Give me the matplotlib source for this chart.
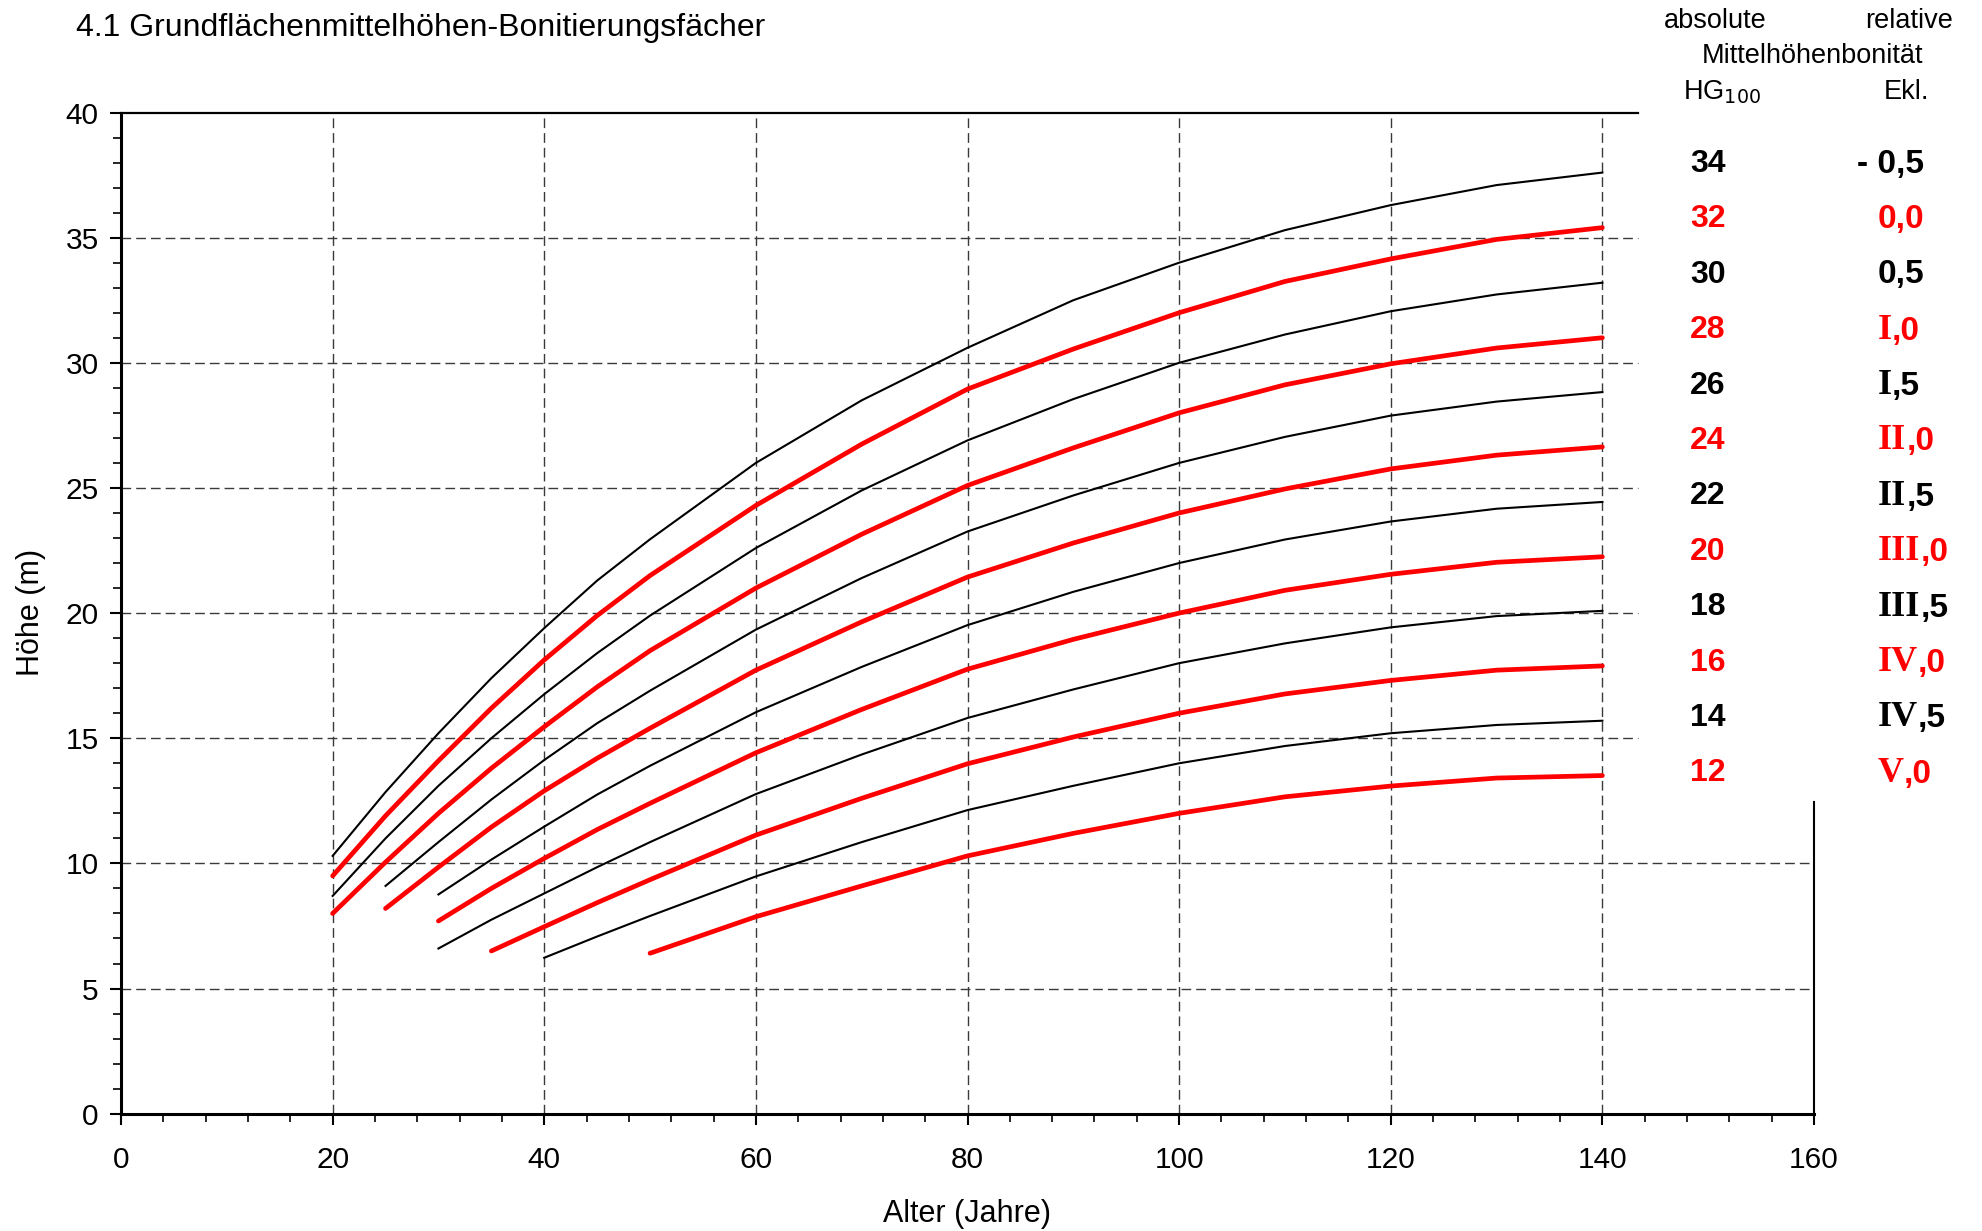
import numpy as np
import matplotlib.pyplot as plt
from matplotlib.ticker import MultipleLocator

plt.rcParams['font.family'] = ['Liberation Sans', 'DejaVu Sans']

# Alter (Jahre)
ages = [20, 25, 30, 35, 40, 45, 50, 60, 70, 80, 90, 100, 110, 120, 130, 140]
nan = np.nan

# Grundflächenmittelhöhe (m) je absolute Bonität HG100
h34 = [10.3, 12.85, 15.2, 17.4, 19.4, 21.3, 22.95, 26.0, 28.5, 30.6, 32.5, 34.0, 35.3, 36.3, 37.1, 37.6]
h32 = [9.5, 11.9, 14.1, 16.2, 18.13, 19.9, 21.5, 24.3, 26.75, 28.95, 30.55, 32.0, 33.25, 34.15, 34.93, 35.4]
h30 = [8.7, 11.0, 13.1, 15.0, 16.76, 18.4, 19.9, 22.6, 24.9, 26.9, 28.55, 30.0, 31.13, 32.06, 32.73, 33.2]
h28 = [8.0, 10.05, 12.0, 13.8, 15.46, 17.05, 18.5, 21.0, 23.15, 25.1, 26.6, 28.0, 29.12, 29.96, 30.59, 31.0]
h26 = [nan, 9.1, 10.85, 12.55, 14.13, 15.6, 16.9, 19.34, 21.4, 23.26, 24.7, 26.0, 27.04, 27.89, 28.45, 28.83]
h24 = [nan, 8.2, 9.85, 11.45, 12.9, 14.2, 15.4, 17.72, 19.65, 21.44, 22.8, 24.0, 24.96, 25.76, 26.31, 26.64]
h22 = [nan, nan, 8.76, 10.15, 11.47, 12.75, 13.9, 16.04, 17.85, 19.52, 20.85, 22.0, 22.94, 23.66, 24.17, 24.44]
h20 = [nan, nan, 7.7, 9.0, 10.2, 11.35, 12.4, 14.42, 16.15, 17.76, 18.95, 20.0, 20.91, 21.55, 22.03, 22.25]
h18 = [nan, nan, 6.6, 7.75, 8.8, 9.85, 10.85, 12.77, 14.35, 15.81, 16.95, 18.0, 18.79, 19.43, 19.88, 20.09]
h16 = [nan, nan, nan, 6.5, 7.47, 8.43, 9.35, 11.13, 12.6, 13.98, 15.05, 16.0, 16.77, 17.31, 17.72, 17.89]
h14 = [nan, nan, nan, nan, 6.23, 7.08, 7.9, 9.48, 10.85, 12.13, 13.1, 14.0, 14.69, 15.2, 15.53, 15.7]
h12 = [nan, nan, nan, nan, nan, nan, 6.41, 7.87, 9.1, 10.3, 11.2, 12.0, 12.66, 13.09, 13.41, 13.51]

hg100 = [34, 32, 30, 28, 26, 24, 22, 20, 18, 16, 14, 12]
heights = [h34, h32, h30, h28, h26, h24, h22, h20, h18, h16, h14, h12]
# relative Ekl.: (roemischer Teil, Rest)
ekl = [('', '- 0,5'), ('', '0,0'), ('', '0,5'), ('I', ',0'), ('I', ',5'), ('II', ',0'),
       ('II', ',5'), ('III', ',0'), ('III', ',5'), ('IV', ',0'), ('IV', ',5'), ('V', ',0')]

W, H = 1982, 1231
fig = plt.figure(figsize=(W / 100, H / 100), dpi=100)
ax = fig.add_axes([121 / W, 1 - 1113.7 / H, (1814 - 121) / W, (1113.7 - 112.5) / H])

def px(x, y):
    return x / W, 1 - y / H

# grid lines (upper ones stop before the table)
dash = (0, (7, 3.6))
gcol = '#3a3a3a'
for y in [5, 10]:
    ax.plot([0, 160], [y, y], color=gcol, lw=1.0, ls=dash, zorder=1)
for y in [15, 20, 25, 30, 35]:
    ax.plot([0, 143.4], [y, y], color=gcol, lw=1.0, ls=dash, zorder=1, clip_on=False)
for x in range(20, 141, 20):
    ax.plot([x, x], [0, 40], color=gcol, lw=1.0, ls=dash, zorder=1)

# curves
for i, h in enumerate(heights):
    if i % 2 == 1:
        ax.plot(ages, h, color='#ff0000', lw=3.4, solid_capstyle='round', zorder=3)
    else:
        ax.plot(ages, h, color='black', lw=1.5, zorder=4)

ax.set_xlim(0, 160)
ax.set_ylim(0, 40)
ax.spines['top'].set_visible(False)
ax.spines['right'].set_visible(False)
ax.spines['left'].set_linewidth(2.2)
ax.spines['bottom'].set_linewidth(2.2)
ax.plot([0, 143.4], [40, 40], color='black', lw=1.6, clip_on=False, zorder=5)
ax.plot([160, 160], [0, 12.45], color='black', lw=1.5, clip_on=False, zorder=5)

ax.xaxis.set_major_locator(MultipleLocator(20))
ax.xaxis.set_minor_locator(MultipleLocator(4))
ax.yaxis.set_major_locator(MultipleLocator(5))
ax.yaxis.set_minor_locator(MultipleLocator(1))
ax.tick_params(which='major', direction='out', length=8, width=1.5, labelsize=21.5)
ax.tick_params(which='minor', direction='out', length=5.5, width=1.2)
ax.tick_params(axis='x', which='major', pad=15)
ax.tick_params(axis='y', which='major', pad=8)

fig.text(*px(76, 28), '4.1 Grundflächenmittelhöhen-Bonitierungsfächer', fontsize=23, ha='left', va='center')
fig.text(*px(967, 1214), 'Alter (Jahre)', fontsize=22, ha='center', va='center')
fig.text(*px(31, 612), 'Höhe (m)', fontsize=22, ha='center', va='center', rotation=90)

# table on the right
hs = 19.5
fig.text(*px(1715, 21), 'absolute', fontsize=hs, ha='center', va='center')
fig.text(*px(1953, 21), 'relative', fontsize=hs, ha='right', va='center')
fig.text(*px(1812, 56), 'Mittelhöhenbonität', fontsize=hs, ha='center', va='center')
fig.text(*px(1722, 92), r'HG$_{100}$', fontsize=hs, ha='center', va='center')
fig.text(*px(1907, 92), 'Ekl.', fontsize=hs, ha='center', va='center')

for i, (hg, (roman, rest)) in enumerate(zip(hg100, ekl)):
    c = '#ff0000' if i % 2 == 1 else 'black'
    yy = 164 + i * 55.4
    fig.text(*px(1708, yy), str(hg), fontsize=23, fontweight='bold', color=c, ha='center', va='center')
    if roman:
        t = fig.text(*px(1878, yy), roman, fontsize=26, fontweight='bold', color=c,
                     family='Liberation Serif', ha='left', va='center')
        ax.annotate(rest, xy=(1, 0), xycoords=t, fontsize=24, fontweight='bold', color=c,
                    ha='left', va='bottom', annotation_clip=False)
    else:
        x0 = 1857 if rest.startswith('-') else 1878
        fig.text(*px(x0, yy), rest, fontsize=24, fontweight='bold', color=c, ha='left', va='center')

fig.savefig('out.png', dpi=100)
